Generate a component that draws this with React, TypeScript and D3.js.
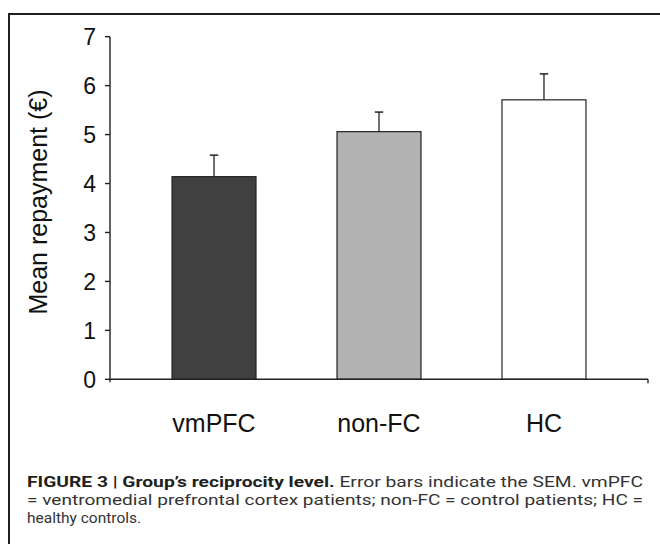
import React from "react";
import * as d3 from "d3";

const categories = ["vmPFC", "non-FC", "HC"];
const means = [4.14, 5.06, 5.71];
const errorTops = [4.58, 5.46, 6.24];
const fills = ["#404040", "#b3b3b3", "#ffffff"];
const yTicks = [0, 1, 2, 3, 4, 5, 6, 7];
const yLabel = "Mean repayment (€)";
const captionBold = "FIGURE 3 | Group’s reciprocity level.";
const captionRest = " Error bars indicate the SEM. vmPFC";
const captionLine2 = "= ventromedial prefrontal cortex patients; non-FC = control patients; HC =";
const captionLine3 = "healthy controls.";

export default function App() {
  const W = 660, H = 544;
  const x0 = 110, x1 = 648;
  const y = d3.scaleLinear().domain([0, 7]).range([379.3, 36.7]);
  const x = d3.scaleBand<string>().domain(categories).range([x0, x1]).paddingInner(0.491).paddingOuter(0.376);
  const bw = x.bandwidth();
  const font = "'Liberation Sans', Arial, Helvetica, sans-serif";
  return (
    <svg width={W} height={H} style={{ position: "absolute", left: 0, top: 0, background: "#fff" }} fontFamily={font}>
      <rect x={0} y={0} width={W} height={H} fill="#fff" />
      {/* frame */}
      <line x1={9} y1={14} x2={W} y2={14} stroke="#231f20" strokeWidth={2} />
      <line x1={9} y1={13} x2={9} y2={H} stroke="#231f20" strokeWidth={2} />
      {/* bars */}
      {categories.map((c, i) => {
        const bx = x(c)!;
        const cx = bx + bw / 2;
        return (
          <g key={c}>
            <line x1={cx} x2={cx} y1={y(means[i])} y2={y(errorTops[i])} stroke="#222" strokeWidth={1.3} />
            <line x1={cx - 4.2} x2={cx + 4.2} y1={y(errorTops[i])} y2={y(errorTops[i])} stroke="#222" strokeWidth={1.5} />
            <rect x={bx} y={y(means[i])} width={bw} height={y(0) - y(means[i])} fill={fills[i]} stroke="#222" strokeWidth={1.2} />
          </g>
        );
      })}
      {/* y axis */}
      <line x1={x0} x2={x0} y1={y(7)} y2={y(0) + 3} stroke="#222" strokeWidth={1.4} />
      {yTicks.map((t) => (
        <g key={t}>
          <line x1={x0 - 5} x2={x0} y1={y(t)} y2={y(t)} stroke="#222" strokeWidth={1.4} />
          <text x={96} y={y(t)} dy="0.36em" textAnchor="end" fontSize={23} fill="#111">{t}</text>
        </g>
      ))}
      {/* x axis */}
      <line x1={x0} x2={x1} y1={y(0)} y2={y(0)} stroke="#222" strokeWidth={1.4} />
      <line x1={x1} x2={x1} y1={y(0)} y2={y(0) + 4} stroke="#222" strokeWidth={1.4} />
      {categories.map((c) => (
        <text key={c} x={x(c)! + bw / 2} y={432} textAnchor="middle" fontSize={25} fill="#111">{c}</text>
      ))}
      <text transform={`translate(47,202) rotate(-90)`} textAnchor="middle" fontSize={25} fill="#111">{yLabel}</text>
      {/* caption */}
      <g fontFamily="Roboto, 'Liberation Sans', sans-serif" fontSize={15.5} fill="#333">
        <text x={27} y={487} textLength={616} lengthAdjust="spacingAndGlyphs">
          <tspan fontWeight="bold" fill="#231f20">{captionBold}</tspan>
          <tspan>{captionRest}</tspan>
        </text>
        <text x={27} y={505} textLength={616} lengthAdjust="spacingAndGlyphs">{captionLine2}</text>
        <text x={27} y={523}>{captionLine3}</text>
      </g>
    </svg>
  );
}
